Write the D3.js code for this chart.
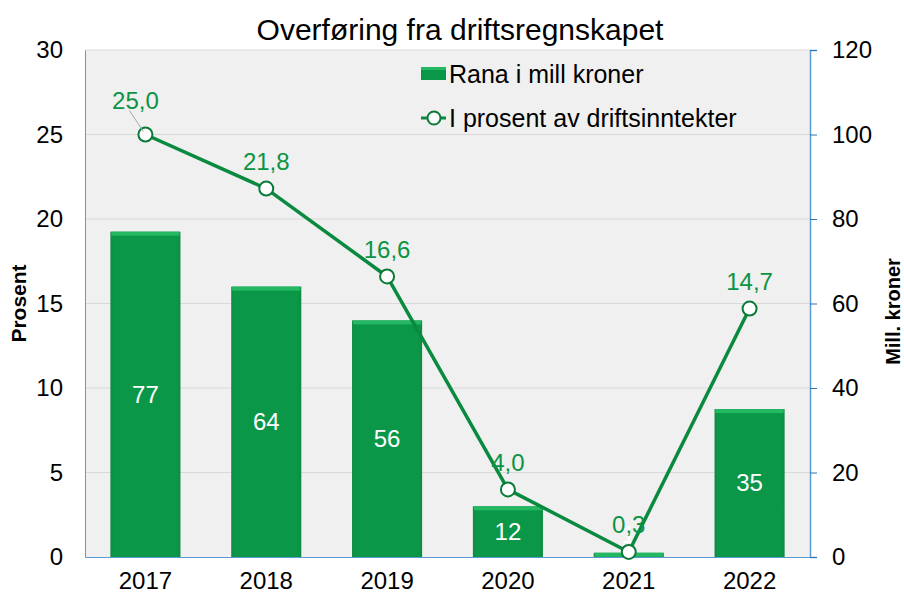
<!DOCTYPE html>
<html lang="no">
<head>
<meta charset="UTF-8">
<title>Overføring fra driftsregnskapet</title>
<script src="https://cdn.jsdelivr.net/npm/d3@7"></script>
<style>
  body { margin: 0; background: #fff; }
  svg { font-family: "Liberation Sans", Arial, sans-serif; display: block; }
</style>
</head>
<body>
<div id="chart"></div>
<script>
// chart data
const years = ['2017', '2018', '2019', '2020', '2021', '2022'];
const millKroner = [77, 64, 56, 12, 1, 35];
const prosent = [25.0, 21.8, 16.6, 4.0, 0.3, 14.7];
const leftTicks = [0, 5, 10, 15, 20, 25, 30];
const rightTicks = [0, 20, 40, 60, 80, 100, 120];

const w = 904, h = 599;
const m = { left: 85, right: 94, top: 50, bottom: 42 };
const font = '"Liberation Sans", Arial, sans-serif';

const svg = d3.select('#chart').append('svg')
  .attr('width', w)
  .attr('height', h);

// gradient for the bars (slight bevel look)
const defs = svg.append('defs');
const grad = defs.append('linearGradient').attr('id', 'barGrad')
  .attr('x1', 0).attr('x2', 1).attr('y1', 0).attr('y2', 0);
grad.append('stop').attr('offset', '0%').attr('stop-color', '#0e8a42');
grad.append('stop').attr('offset', '5%').attr('stop-color', '#0b9748');
grad.append('stop').attr('offset', '95%').attr('stop-color', '#0b9748');
grad.append('stop').attr('offset', '100%').attr('stop-color', '#0e8a42');

const x = d3.scaleBand()
  .domain(years)
  .range([m.left, w - m.right])
  .paddingInner(0.42)
  .paddingOuter(0.21);

const yL = d3.scaleLinear().domain([0, 30]).range([h - m.bottom, m.top]);
const yR = d3.scaleLinear().domain([0, 120]).range([h - m.bottom, m.top]);

// plot background
svg.append('rect')
  .attr('x', m.left).attr('y', m.top)
  .attr('width', w - m.left - m.right)
  .attr('height', h - m.top - m.bottom)
  .attr('fill', '#f0f0f0');

// gridlines
svg.append('g')
  .selectAll('line')
  .data(leftTicks.slice(1))
  .join('line')
  .attr('x1', m.left).attr('x2', w - m.right)
  .attr('y1', d => yL(d)).attr('y2', d => yL(d))
  .attr('stroke', '#d9d9d9')
  .attr('stroke-width', 1);

// left axis
const axL = svg.append('g')
  .attr('transform', `translate(${m.left},0)`)
  .call(d3.axisLeft(yL).tickValues(leftTicks).tickSize(0).tickPadding(22));
axL.select('.domain').attr('stroke', '#5b9bd5');
axL.selectAll('text').attr('font-size', 24).attr('fill', '#000')
  .attr('font-family', font);

// right axis
const axR = svg.append('g')
  .attr('transform', `translate(${w - m.right},0)`)
  .call(d3.axisRight(yR).tickValues(rightTicks).tickSize(7).tickSizeOuter(7).tickPadding(15));
axR.select('.domain').attr('stroke', '#5b9bd5').attr('stroke-width', 1.5);
axR.selectAll('line').attr('stroke', '#2e75b6');
axR.selectAll('text').attr('font-size', 24).attr('fill', '#000')
  .attr('font-family', font);

// x axis
const axB = svg.append('g')
  .attr('transform', `translate(0,${h - m.bottom})`)
  .call(d3.axisBottom(x).tickSize(0).tickPadding(15));
axB.select('.domain').attr('stroke', '#5b9bd5');
axB.selectAll('text').attr('font-size', 24).attr('fill', '#000')
  .attr('font-family', font);

// bars
const bars = svg.append('g');
bars.selectAll('rect.bar')
  .data(millKroner)
  .join('rect')
  .attr('class', 'bar')
  .attr('x', (d, i) => x(years[i]))
  .attr('y', d => yR(d))
  .attr('width', x.bandwidth())
  .attr('height', d => yR(0) - yR(d))
  .attr('fill', 'url(#barGrad)');
// light top edge
bars.selectAll('rect.top')
  .data(millKroner)
  .join('rect')
  .attr('class', 'top')
  .attr('x', (d, i) => x(years[i]) + 1)
  .attr('y', d => yR(d))
  .attr('width', x.bandwidth() - 2)
  .attr('height', d => Math.min(4, yR(0) - yR(d)))
  .attr('fill', '#25b862');

// bar labels
svg.append('g')
  .selectAll('text')
  .data(millKroner)
  .join('text')
  .attr('x', (d, i) => x(years[i]) + x.bandwidth() / 2)
  .attr('y', d => Math.min((yR(d) + yR(0)) / 2, yR(0) - 22))
  .attr('dy', '0.35em')
  .attr('text-anchor', 'middle')
  .attr('font-size', 24)
  .attr('fill', '#fff')
  .text(d => d);

// line
const cx = i => x(years[i]) + x.bandwidth() / 2;
const line = d3.line()
  .x((d, i) => cx(i))
  .y(d => yL(d));

svg.append('path')
  .datum(prosent)
  .attr('d', line)
  .attr('fill', 'none')
  .attr('stroke', '#0a8a3f')
  .attr('stroke-width', 3.5)
  .attr('stroke-linejoin', 'round');

svg.append('g')
  .selectAll('circle')
  .data(prosent)
  .join('circle')
  .attr('cx', (d, i) => cx(i))
  .attr('cy', d => yL(d))
  .attr('r', 7)
  .attr('fill', '#fff')
  .attr('stroke', '#0a7a38')
  .attr('stroke-width', 2);

// line labels (first one pulled up-left with a leader line)
const fmt = d => d3.format('.1f')(d).replace('.', ',');
const off = prosent.map((d, i) => i === 0 ? [-10, -34] : [0, -27]);

svg.append('line')
  .attr('x1', cx(0) - 16).attr('y1', yL(prosent[0]) - 24)
  .attr('x2', cx(0) - 2).attr('y2', yL(prosent[0]) - 3)
  .attr('stroke', '#a6a6a6').attr('stroke-width', 1);

svg.append('g')
  .selectAll('text')
  .data(prosent)
  .join('text')
  .attr('x', (d, i) => cx(i) + off[i][0])
  .attr('y', (d, i) => yL(d) + off[i][1])
  .attr('dy', '0.35em')
  .attr('text-anchor', 'middle')
  .attr('font-size', 24)
  .attr('fill', '#0a9444')
  .text(d => fmt(d));

// title
svg.append('text')
  .attr('x', 460).attr('y', 40)
  .attr('text-anchor', 'middle')
  .attr('font-size', 30)
  .attr('fill', '#000')
  .text('Overføring fra driftsregnskapet');

// axis titles
svg.append('text')
  .attr('transform', `translate(26,${(m.top + h - m.bottom) / 2}) rotate(-90)`)
  .attr('text-anchor', 'middle')
  .attr('font-size', 21)
  .attr('font-weight', 'bold')
  .text('Prosent');

svg.append('text')
  .attr('transform', `translate(900,${(m.top + h - m.bottom) / 2 + 8}) rotate(-90)`)
  .attr('text-anchor', 'middle')
  .attr('font-size', 20)
  .attr('font-weight', 'bold')
  .text('Mill. kroner');

// legend
const lg = svg.append('g').attr('transform', 'translate(421,0)');
lg.append('rect')
  .attr('x', 0).attr('y', 67).attr('width', 25).attr('height', 13)
  .attr('fill', 'url(#barGrad)');
lg.append('rect')
  .attr('x', 0).attr('y', 67).attr('width', 25).attr('height', 3)
  .attr('fill', '#25b862');
lg.append('text')
  .attr('x', 28).attr('y', 74).attr('dy', '0.35em')
  .attr('font-size', 25)
  .text('Rana i mill kroner');
lg.append('line')
  .attr('x1', 0).attr('x2', 25).attr('y1', 118).attr('y2', 118)
  .attr('stroke', '#0a8a3f').attr('stroke-width', 3);
lg.append('circle')
  .attr('cx', 13).attr('cy', 118).attr('r', 6.5)
  .attr('fill', '#fff').attr('stroke', '#0a7a38').attr('stroke-width', 2);
lg.append('text')
  .attr('x', 28).attr('y', 118).attr('dy', '0.35em')
  .attr('font-size', 25)
  .text('I prosent av driftsinntekter');
</script>
</body>
</html>
